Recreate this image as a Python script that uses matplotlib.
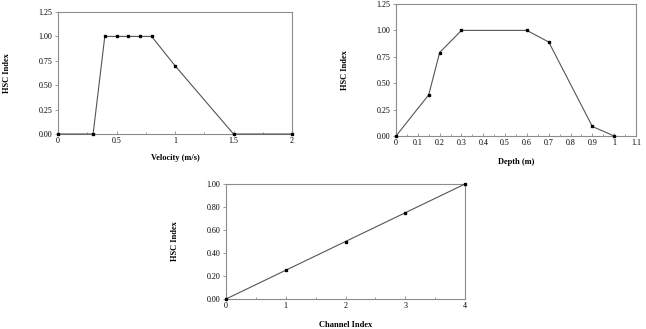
import matplotlib.pyplot as plt
import numpy as np

plt.rcParams['font.family'] = ['Liberation Serif', 'DejaVu Serif']

# Data
velocity = [0, 0.3, 0.4, 0.5, 0.6, 0.7, 0.8, 1.0, 1.5, 2.0]
velocity_hsc = [0, 0, 1.0, 1.0, 1.0, 1.0, 1.0, 0.7, 0, 0]

depth = [0, 0.15, 0.2, 0.3, 0.6, 0.7, 0.9, 1.0]
depth_hsc = [0, 0.39, 0.79, 1.0, 1.0, 0.89, 0.09, 0]

channel = [0, 1, 2, 3, 4]
channel_hsc = [0, 0.25, 0.5, 0.75, 1.0]

W, H = 646, 329
fig = plt.figure(figsize=(W / 100, H / 100), dpi=100)


def px_axes(left, top, right, bottom):
    return fig.add_axes([left / W, 1 - bottom / H, (right - left) / W, (bottom - top) / H])


def style(ax):
    for s in ax.spines.values():
        s.set_color('#8c8c8c')
        s.set_linewidth(0.8)
    ax.tick_params(which='both', labelsize=5.8, color='#8c8c8c', length=2, width=0.6,
                   direction='out', pad=2)
    ax.tick_params(axis='x', which='both', direction='in')
    ax.tick_params(axis='x', which='minor', length=1.5)


def draw(ax, x, y):
    ax.plot(x, y, color='#555555', lw=0.8, marker='s', ms=1.8,
            mfc='black', mec='black', clip_on=False, zorder=3)


# Velocity
ax1 = px_axes(58, 12, 292, 134)
draw(ax1, velocity, velocity_hsc)
ax1.set_xlim(0, 2)
ax1.set_ylim(0, 1.25)
ax1.set_xticks([0, 0.5, 1, 1.5, 2])
ax1.set_xticklabels(['0', '0.5', '1', '1.5', '2'])
ax1.set_xticks(np.arange(0, 2.01, 0.25), minor=True)
ax1.set_yticks([0, 0.25, 0.5, 0.75, 1.0, 1.25])
ax1.set_yticklabels(['0.00', '0.25', '0.50', '0.75', '1.00', '1.25'])
ax1.set_xlabel('Velocity (m/s)', fontsize=6, fontweight='bold', labelpad=7)
ax1.set_ylabel('HSC Index', fontsize=6, fontweight='bold', labelpad=20)
style(ax1)

# Depth
ax2 = px_axes(396, 4, 636, 136)
draw(ax2, depth, depth_hsc)
ax2.set_xlim(0, 1.1)
ax2.set_ylim(0, 1.25)
ax2.set_xticks(np.arange(0, 1.11, 0.1))
ax2.set_xticklabels(['0', '0.1', '0.2', '0.3', '0.4', '0.5', '0.6', '0.7', '0.8',
                     '0.9', '1', '1.1'])
ax2.set_xticks(np.arange(0, 1.101, 0.05), minor=True)
ax2.set_yticks([0, 0.25, 0.5, 0.75, 1.0, 1.25])
ax2.set_yticklabels(['0.00', '0.25', '0.50', '0.75', '1.00', '1.25'])
ax2.set_xlabel('Depth (m)', fontsize=6, fontweight='bold', labelpad=8)
ax2.set_ylabel('HSC Index', fontsize=6, fontweight='bold', labelpad=20)
style(ax2)

# Channel
ax3 = px_axes(226, 184, 465, 299)
draw(ax3, channel, channel_hsc)
ax3.set_xlim(0, 4)
ax3.set_ylim(0, 1.0)
ax3.set_xticks([0, 1, 2, 3, 4])
ax3.set_xticks(np.arange(0, 4.01, 0.5), minor=True)
ax3.set_yticks([0, 0.2, 0.4, 0.6, 0.8, 1.0])
ax3.set_yticklabels(['0.00', '0.20', '0.40', '0.60', '0.80', '1.00'])
ax3.set_xlabel('Channel Index', fontsize=6, fontweight='bold', labelpad=8)
ax3.set_ylabel('HSC Index', fontsize=6, fontweight='bold', labelpad=20)
style(ax3)

fig.savefig('out.png', dpi=100)
